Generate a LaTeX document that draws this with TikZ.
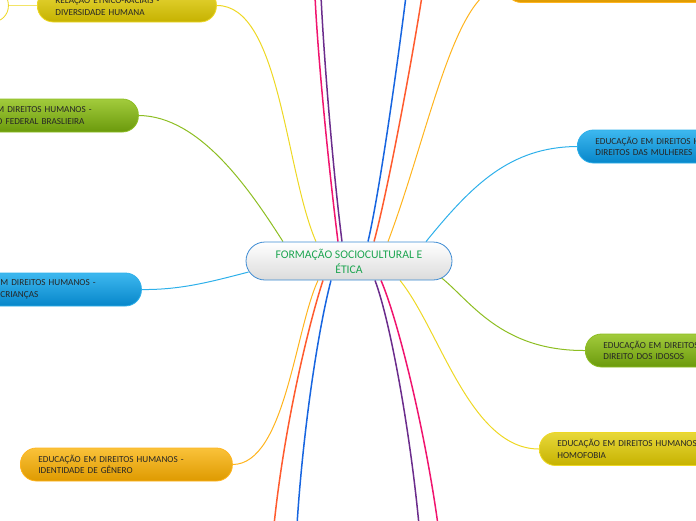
\documentclass[tikz,border=0pt]{standalone}
\usepackage{fontspec}
\setmainfont{Carlito}
\usepackage{xcolor}
\usetikzlibrary{calc,backgrounds}

\definecolor{lineGreen}{HTML}{8DBE22}
\definecolor{lineYellow}{HTML}{EED824}
\definecolor{linePink}{HTML}{F0146E}
\definecolor{linePurple}{HTML}{6B2C8C}
\definecolor{lineBlue}{HTML}{1765E0}
\definecolor{lineRed}{HTML}{FF5B2E}
\definecolor{lineOrange}{HTML}{FFB41E}
\definecolor{lineSky}{HTML}{2EB0EA}
\definecolor{centerEdge}{HTML}{3D8BD3}
\definecolor{titleGreen}{HTML}{1DA551}
\definecolor{greenTop}{HTML}{A2CB3C}
\definecolor{greenBot}{HTML}{6B9A0C}
\definecolor{yellowTop}{HTML}{E8D83A}
\definecolor{yellowBot}{HTML}{C6B200}
\definecolor{blueTop}{HTML}{3DB8EF}
\definecolor{blueBot}{HTML}{0786CA}
\definecolor{orangeTop}{HTML}{FAC23A}
\definecolor{orangeBot}{HTML}{DE9A00}

\begin{document}
\begin{tikzpicture}[
    x=1pt, y=-1pt,
    topic/.style={draw, rounded corners=16pt, minimum height=33pt, inner xsep=18pt, inner ysep=0pt, anchor=west, align=left, line width=0.8pt, text=black!85, font=\fontsize{9.2}{11.5}\selectfont},
    central/.style={draw=centerEdge, line width=0.8pt, rounded corners=19pt, minimum width=206pt, minimum height=38pt, top color=white, bottom color=gray!28, align=center, text=titleGreen, font=\fontsize{11.7}{15}\selectfont},
    greenbox/.style={topic, draw=lineGreen, top color=greenTop, bottom color=greenBot},
    yellowbox/.style={topic, draw=lineYellow, top color=yellowTop, bottom color=yellowBot},
    bluebox/.style={topic, draw=lineSky, top color=blueTop, bottom color=blueBot},
    orangebox/.style={topic, draw=lineOrange, top color=orangeTop, bottom color=orangeBot},
    subbox/.style={draw=lineYellow, line width=0.8pt, fill=white, rounded corners=16pt, minimum height=33pt, minimum width=118pt, anchor=west},
    link/.style={line width=1pt},
    strand/.style={line width=1.5pt}
]
\useasboundingbox (0,0) rectangle (696,520);

% central topic
\node[central] (ctr) at (349,261) {FORMAÇÃO SOCIOCULTURAL E\\ÉTICA};

% left branches
\node[subbox] (diversSub) at (-110,5.5) {};
\node[yellowbox, text width=143pt] (diversidade) at (37,5.5) {RELAÇÃO ÉTNICO-RACIAIS -\\DIVERSIDADE HUMANA};
\node[greenbox, text width=124pt] (federal) at (-22,115.5) {M DIREITOS HUMANOS -\\O FEDERAL BRASLIEIRA};
\node[bluebox, text width=123pt] (criancas) at (-18,289.5) {M DIREITOS HUMANOS -\\CRIANÇAS};
\node[orangebox, text width=176pt] (genero) at (20,464.5) {EDUCAÇÃO EM DIREITOS HUMANOS -\\IDENTIDADE DE GÊNERO};

% right branches
\node[orangebox, minimum width=220pt] (topright) at (505,-14) {};
\node[bluebox, text width=170pt] (mulheres) at (577,146.5) {EDUCAÇÃO EM DIREITOS H\\DIREITOS DAS MULHERES};
\node[greenbox, text width=170pt] (idosos) at (585,350.5) {EDUCAÇÃO EM DIREITOS\\DIREITO DOS IDOSOS};
\node[yellowbox, text width=180pt] (homofobia) at (539,449) {EDUCAÇÃO EM DIREITOS HUMANOS\\HOMOFOBIA};

% free ends off the page
\coordinate (pinkTop) at (315,-4);
\coordinate (purpleTop) at (321,-4);
\coordinate (blueTop) at (406,-4);
\coordinate (redTop) at (422,-4);
\coordinate (redBot) at (274,525);
\coordinate (blueBot) at (297,525);
\coordinate (purpleBot) at (419,525);
\coordinate (pinkBot) at (438,525);

\begin{scope}[on background layer]
\draw[link, lineYellow!70] (diversSub.east) -- (diversidade.west);
\draw[link, lineGreen] ($(ctr.north)+(-66,0)$) .. controls (250,190) and (200,116) .. (federal.east);
\draw[link, lineYellow] ($(ctr.north)+(-33,0)$) .. controls (285,170) and (280,5) .. (diversidade.east);
\draw[strand, linePink] ($(ctr.north)+(-11,0)$) .. controls (329,170) and (318,60) .. (pinkTop);
\draw[strand, linePurple] ($(ctr.north)+(-7,0)$) .. controls (333,170) and (324,60) .. (purpleTop);
\draw[strand, lineBlue] ($(ctr.north)+(19,0)$) .. controls (380,190) and (398,60) .. (blueTop);
\draw[strand, lineRed] ($(ctr.north)+(25,0)$) .. controls (388,190) and (412,60) .. (redTop);
\draw[link, lineOrange] ($(ctr.north)+(39,0)$) .. controls (430,130) and (455,-14) .. (topright.west);
\draw[link, lineSky] ($(ctr.north)+(77,0)$) .. controls (472,185) and (510,147) .. (mulheres.west);
\draw[link, lineSky] ($(ctr.west)+(3,11)$) .. controls (210,282) and (180,290) .. (criancas.east);
\draw[link, lineOrange] ($(ctr.south)+(-31,0)$) .. controls (295,330) and (285,464) .. (genero.east);
\draw[strand, lineRed] ($(ctr.south)+(-26,0)$) .. controls (310,320) and (285,420) .. (redBot);
\draw[strand, lineBlue] ($(ctr.south)+(-18,0)$) .. controls (318,330) and (303,430) .. (blueBot);
\draw[strand, linePurple] ($(ctr.south)+(26,0)$) .. controls (390,320) and (410,430) .. (purpleBot);
\draw[strand, linePink] ($(ctr.south)+(32,0)$) .. controls (398,320) and (425,430) .. (pinkBot);
\draw[link, lineYellow] ($(ctr.south)+(51,0)$) .. controls (440,330) and (470,449) .. (homofobia.west);
\draw[link, lineGreen] ($(ctr.east)+(-12,16)$) .. controls (470,300) and (500,351) .. (idosos.west);
\end{scope}
\end{tikzpicture}
\end{document}
